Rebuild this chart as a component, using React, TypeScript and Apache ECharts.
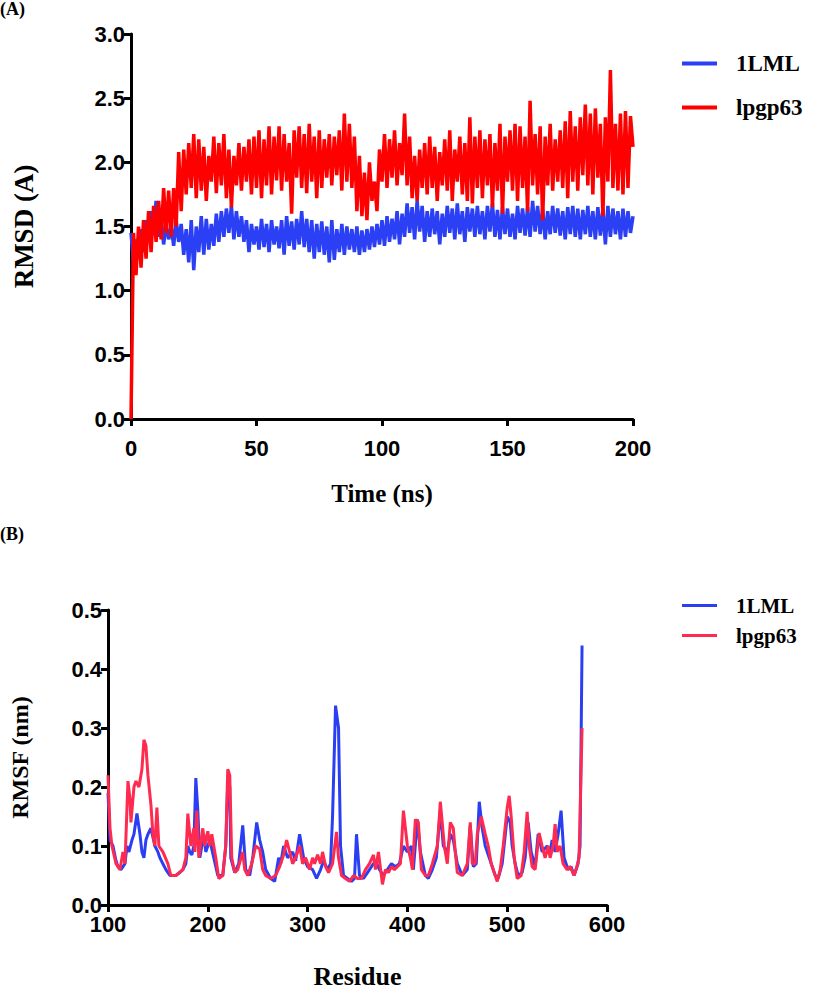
import React, { useEffect, useRef } from "react";
import * as echarts from "echarts";

// ---------- Panel A: RMSD vs time (ns), one value per ns ----------
const rmsdBlue = [
  1.45, 1.22, 1.40, 1.25, 1.48, 1.30, 1.55, 1.38, 1.62, 1.45,
  1.70, 1.42, 1.58, 1.36, 1.52, 1.40, 1.50, 1.35, 1.55, 1.38,
  1.52, 1.28, 1.48, 1.22, 1.55, 1.16, 1.50, 1.30, 1.58, 1.28,
  1.56, 1.32, 1.52, 1.35, 1.60, 1.38, 1.62, 1.42, 1.64, 1.45,
  1.66, 1.40, 1.62, 1.42, 1.58, 1.38, 1.55, 1.30, 1.52, 1.36,
  1.50, 1.32, 1.56, 1.34, 1.52, 1.30, 1.55, 1.36, 1.50, 1.33,
  1.55, 1.28, 1.58, 1.35, 1.54, 1.32, 1.56, 1.36, 1.62, 1.34,
  1.56, 1.30, 1.55, 1.25, 1.52, 1.30, 1.54, 1.28, 1.50, 1.22,
  1.55, 1.24, 1.48, 1.30, 1.52, 1.28, 1.50, 1.32, 1.48, 1.30,
  1.50, 1.28, 1.47, 1.30, 1.48, 1.32, 1.50, 1.34, 1.52, 1.36,
  1.55, 1.35, 1.58, 1.38, 1.56, 1.40, 1.62, 1.36, 1.60, 1.42,
  1.68, 1.45, 1.65, 1.40, 1.70, 1.46, 1.66, 1.38, 1.62, 1.42,
  1.64, 1.44, 1.62, 1.36, 1.60, 1.42, 1.66, 1.45, 1.64, 1.40,
  1.68, 1.44, 1.62, 1.38, 1.65, 1.46, 1.64, 1.42, 1.66, 1.44,
  1.62, 1.40, 1.66, 1.46, 1.68, 1.42, 1.63, 1.40, 1.65, 1.44,
  1.64, 1.42, 1.60, 1.40, 1.66, 1.45, 1.64, 1.43, 1.65, 1.42,
  1.70, 1.46, 1.66, 1.44, 1.64, 1.40, 1.62, 1.44, 1.66, 1.45,
  1.64, 1.43, 1.62, 1.40, 1.65, 1.44, 1.66, 1.42, 1.64, 1.40,
  1.63, 1.44, 1.66, 1.42, 1.62, 1.40, 1.65, 1.43, 1.64, 1.36,
  1.66, 1.42, 1.64, 1.44, 1.62, 1.40, 1.64, 1.42, 1.62, 1.45,
  1.58,
];

const rmsdRed = [
  0.00, 1.45, 1.12, 1.50, 1.18, 1.55, 1.25, 1.62, 1.30, 1.66,
  1.38, 1.70, 1.40, 1.80, 1.45, 1.78, 1.42, 1.80, 1.50, 2.08,
  1.62, 2.10, 1.75, 2.15, 1.80, 2.22, 1.72, 2.18, 1.78, 2.12,
  1.70, 2.05, 1.85, 2.20, 1.76, 2.15, 1.82, 2.22, 1.72, 2.10,
  1.65, 2.05, 1.82, 2.15, 1.78, 2.12, 1.85, 2.18, 1.75, 2.20,
  1.80, 2.25, 1.72, 2.18, 1.82, 2.28, 1.75, 2.20, 1.86, 2.28,
  1.78, 2.22, 1.85, 2.15, 1.60, 2.25, 1.88, 2.28, 1.80, 2.22,
  1.76, 2.30, 1.85, 2.20, 1.72, 2.25, 1.80, 2.18, 1.88, 2.22,
  1.82, 2.20, 1.90, 2.25, 1.78, 2.38, 1.85, 2.30, 1.80, 2.20,
  1.62, 2.05, 1.58, 1.92, 1.55, 2.00, 1.70, 1.85, 1.62, 2.10,
  1.85, 2.22, 1.80, 2.18, 1.88, 2.25, 1.82, 2.15, 1.90, 2.38,
  1.82, 2.20, 1.72, 2.05, 1.70, 2.10, 1.80, 2.15, 1.75, 2.20,
  1.80, 2.12, 1.70, 2.08, 1.82, 2.18, 1.78, 2.25, 1.70, 2.10,
  1.85, 2.20, 1.75, 2.15, 1.70, 2.35, 1.68, 2.20, 1.80, 2.25,
  1.72, 2.18, 1.82, 2.22, 1.65, 2.15, 1.78, 2.30, 1.60, 2.20,
  1.85, 2.25, 1.78, 2.30, 1.70, 2.28, 1.80, 2.20, 1.62, 2.48,
  1.82, 2.22, 1.75, 2.28, 1.55, 2.20, 1.82, 2.30, 1.78, 2.18,
  1.85, 2.25, 1.80, 2.32, 1.72, 2.40, 1.85, 2.28, 1.78, 2.35,
  1.90, 2.45, 1.82, 2.38, 1.75, 2.42, 1.88, 2.30, 1.58, 2.35,
  1.85, 2.72, 1.80, 2.30, 1.78, 2.38, 1.75, 2.40, 1.80, 2.36,
  2.12,
];

// ---------- Panel B: RMSF vs residue ----------
const rmsfResBlue = [
  100, 102, 105, 108, 110, 113, 117, 119, 121, 124, 126, 129, 132, 134, 136, 138, 140, 143, 147, 150,
  152, 155, 158, 162, 168, 172, 175, 178, 180, 182, 184, 186, 188, 190, 192, 194, 196, 198, 202, 206,
  210, 215, 218, 220, 222, 223, 227, 231, 235, 238, 242, 245, 249, 252, 255, 258, 263, 267, 271, 273,
  276, 280, 285, 288, 292, 296, 300, 305, 309, 313, 316, 320, 323, 325, 328, 331, 333, 336, 340, 344,
  347, 349, 352, 356, 360, 364, 368, 372, 376, 380, 384, 388, 392, 396, 400, 404, 406, 410, 413, 418,
  421, 425, 429, 433, 436, 440, 443, 446, 450, 455, 460, 463, 466, 469, 472, 475, 478, 482, 488, 491,
  495, 500, 503, 505, 508, 511, 515, 518, 521, 524, 528, 531, 535, 540, 543, 545, 548, 551, 554, 557,
  561, 564, 567, 571, 573, 575,
];
const rmsfBlue = [
  0.19, 0.11, 0.10, 0.075, 0.065, 0.06, 0.07, 0.10, 0.09, 0.11, 0.12, 0.155, 0.12, 0.09, 0.08, 0.11, 0.12, 0.13, 0.10, 0.09,
  0.08, 0.07, 0.06, 0.05, 0.05, 0.055, 0.06, 0.07, 0.10, 0.09, 0.085, 0.10, 0.215, 0.16, 0.08, 0.10, 0.12, 0.09, 0.11, 0.08,
  0.05, 0.05, 0.10, 0.21, 0.20, 0.08, 0.055, 0.07, 0.135, 0.06, 0.05, 0.08, 0.14, 0.11, 0.09, 0.06, 0.045, 0.04, 0.08, 0.07,
  0.10, 0.08, 0.09, 0.075, 0.12, 0.08, 0.065, 0.06, 0.045, 0.06, 0.075, 0.06, 0.07, 0.15, 0.338, 0.30, 0.10, 0.05, 0.045, 0.04,
  0.045, 0.12, 0.05, 0.045, 0.055, 0.065, 0.075, 0.06, 0.05, 0.06, 0.07, 0.065, 0.07, 0.10, 0.09, 0.10, 0.06, 0.145, 0.09, 0.05,
  0.045, 0.06, 0.08, 0.16, 0.10, 0.09, 0.12, 0.11, 0.07, 0.05, 0.06, 0.135, 0.065, 0.07, 0.175, 0.13, 0.10, 0.08, 0.05, 0.045,
  0.07, 0.15, 0.14, 0.10, 0.07, 0.05, 0.055, 0.08, 0.14, 0.09, 0.065, 0.12, 0.09, 0.10, 0.09, 0.11, 0.09, 0.12, 0.16, 0.08,
  0.06, 0.065, 0.05, 0.07, 0.10, 0.44,
];

const rmsfResRed = [
  100, 102, 104, 108, 112, 115, 117, 120, 122, 123, 126, 128, 131, 134, 136, 138, 140, 143, 145, 147,
  149, 151, 155, 160, 163, 168, 175, 178, 180, 183, 186, 187, 189, 191, 195, 197, 200, 202, 204, 208,
  211, 215, 218, 220, 222, 224, 227, 230, 235, 237, 240, 244, 248, 252, 255, 258, 263, 268, 272, 276,
  279, 282, 285, 288, 292, 295, 298, 302, 305, 307, 310, 313, 315, 318, 321, 325, 329, 331, 334, 338,
  342, 346, 350, 354, 358, 362, 366, 368, 371, 375, 378, 381, 384, 387, 390, 393, 396, 400, 403, 405,
  408, 411, 414, 418, 421, 425, 430, 433, 437, 440, 443, 446, 448, 450, 455, 460, 463, 465, 468, 470,
  474, 478, 481, 484, 490, 493, 496, 500, 502, 504, 507, 510, 514, 517, 520, 522, 525, 528, 532, 535,
  538, 541, 543, 546, 548, 550, 553, 556, 560, 563, 567, 569, 572, 575,
];
const rmsfRed = [
  0.22, 0.13, 0.10, 0.07, 0.06, 0.09, 0.07, 0.21, 0.18, 0.14, 0.20, 0.21, 0.20, 0.23, 0.28, 0.27, 0.22, 0.17, 0.12, 0.10,
  0.165, 0.10, 0.09, 0.07, 0.05, 0.05, 0.06, 0.08, 0.155, 0.10, 0.13, 0.09, 0.16, 0.08, 0.13, 0.10, 0.125, 0.10, 0.12, 0.08,
  0.045, 0.05, 0.10, 0.23, 0.22, 0.08, 0.055, 0.06, 0.09, 0.06, 0.05, 0.07, 0.10, 0.095, 0.06, 0.05, 0.045, 0.05, 0.065, 0.085,
  0.11, 0.09, 0.07, 0.08, 0.10, 0.07, 0.08, 0.06, 0.08, 0.07, 0.085, 0.07, 0.09, 0.065, 0.055, 0.07, 0.124, 0.08, 0.05, 0.045,
  0.04, 0.05, 0.045, 0.045, 0.06, 0.07, 0.085, 0.06, 0.09, 0.035, 0.06, 0.055, 0.065, 0.06, 0.065, 0.07, 0.16, 0.10, 0.08, 0.06,
  0.145, 0.14, 0.06, 0.05, 0.05, 0.07, 0.10, 0.175, 0.10, 0.07, 0.14, 0.13, 0.09, 0.055, 0.05, 0.07, 0.14, 0.07, 0.07, 0.12,
  0.15, 0.12, 0.10, 0.07, 0.04, 0.06, 0.10, 0.165, 0.185, 0.15, 0.08, 0.045, 0.05, 0.09, 0.158, 0.10, 0.065, 0.06, 0.122, 0.10,
  0.08, 0.10, 0.08, 0.10, 0.137, 0.09, 0.10, 0.07, 0.06, 0.065, 0.05, 0.06, 0.08, 0.30,
];

const seriesNames = ["1LML", "lpgp63"];

const BLUE_A = "#2b40f5";
const RED_A = "#ff0000";
const BLUE_B = "#2a3ff2";
const RED_B = "#ff2a50";

const SERIF = "'Liberation Serif', 'Times New Roman', serif";
const SANS = "'Liberation Sans', Arial, sans-serif";

export default function App() {
  const ref = useRef<HTMLDivElement>(null);

  useEffect(() => {
    if (!ref.current) return;
    const chart = echarts.init(ref.current, undefined, { renderer: "svg" });

    const axisLine = { show: true, lineStyle: { color: "#000", width: 3 } };
    const axisTick = { show: true, length: 7, lineStyle: { color: "#000", width: 3 } };
    const tickLabel = { color: "#000", fontFamily: SANS, fontWeight: "bold" as const, fontSize: 22 };

    const option: any = {
      animation: false,
      backgroundColor: "#fff",
      grid: [
        { left: 131, top: 34, width: 502, height: 385, containLabel: false },
        { left: 107, top: 610, width: 500, height: 310, containLabel: false },
      ],
      xAxis: [
        {
          type: "value", gridIndex: 0, min: 0, max: 200, interval: 50, offset: 10,
          axisLine, axisTick, splitLine: { show: false },
          axisLabel: { ...tickLabel, margin: 8 },
          name: "Time (ns)", nameLocation: "middle", nameGap: 52,
          nameTextStyle: { color: "#000", fontFamily: SERIF, fontWeight: "bold", fontSize: 25 },
        },
        {
          type: "value", gridIndex: 1, min: 100, max: 600, interval: 100,
          axisLine, axisTick, splitLine: { show: false },
          axisLabel: { ...tickLabel, margin: 8 },
          name: "Residue", nameLocation: "middle", nameGap: 58,
          nameTextStyle: { color: "#000", fontFamily: SERIF, fontWeight: "bold", fontSize: 26 },
        },
      ],
      yAxis: [
        {
          type: "value", gridIndex: 0, min: 0, max: 3, interval: 0.5,
          axisLine, axisTick, splitLine: { show: false },
          axisLabel: { ...tickLabel, margin: 6, formatter: (v: number) => v.toFixed(1) },
          name: "RMSD (A)", nameLocation: "middle", nameGap: 94, nameRotate: 90,
          nameTextStyle: { color: "#000", fontFamily: SERIF, fontWeight: "bold", fontSize: 27 },
        },
        {
          type: "value", gridIndex: 1, min: 0, max: 0.5, interval: 0.1,
          axisLine, axisTick, splitLine: { show: false },
          axisLabel: { ...tickLabel, margin: 6, formatter: (v: number) => v.toFixed(1) },
          name: "RMSF (nm)", nameLocation: "middle", nameGap: 76, nameRotate: 90,
          nameTextStyle: { color: "#000", fontFamily: SERIF, fontWeight: "bold", fontSize: 24 },
        },
      ],
      legend: [
        {
          orient: "vertical", left: 677, top: 47, itemWidth: 35, itemHeight: 4, itemGap: 21,
          icon: "rect", selectedMode: false,
          textStyle: { color: "#000", fontFamily: SERIF, fontWeight: "bold", fontSize: 23, padding: [0, 0, 0, 14] },
          data: [
            { name: seriesNames[0], itemStyle: { color: BLUE_A } },
            { name: seriesNames[1], itemStyle: { color: RED_A } },
          ],
        },
        {
          orient: "vertical", left: 677, top: 590, itemWidth: 35, itemHeight: 3, itemGap: 9,
          icon: "rect", selectedMode: false,
          textStyle: { color: "#000", fontFamily: SERIF, fontWeight: "bold", fontSize: 21, padding: [0, 0, 0, 14] },
          data: [
            { name: seriesNames[0], itemStyle: { color: BLUE_B } },
            { name: seriesNames[1], itemStyle: { color: RED_B } },
          ],
        },
      ],
      graphic: [
        { type: "text", left: 0, top: 0, style: { text: "(A)", fill: "#000", font: `bold 18px ${SERIF}` } },
        { type: "text", left: 0, top: 525, style: { text: "(B)", fill: "#000", font: `bold 18px ${SERIF}` } },
      ],
      series: [
        {
          name: seriesNames[0], type: "line", xAxisIndex: 0, yAxisIndex: 0, showSymbol: false,
          data: rmsdBlue.map((v, i) => [i, v]), lineStyle: { color: BLUE_A, width: 3.5 }, itemStyle: { color: BLUE_A },
        },
        {
          name: seriesNames[1], type: "line", xAxisIndex: 0, yAxisIndex: 0, showSymbol: false,
          data: rmsdRed.map((v, i) => [i, v]), lineStyle: { color: RED_A, width: 3.5 }, itemStyle: { color: RED_A },
        },
        {
          name: seriesNames[0], type: "line", xAxisIndex: 1, yAxisIndex: 1, showSymbol: false,
          data: rmsfBlue.map((v, i) => [rmsfResBlue[i], v]), lineStyle: { color: BLUE_B, width: 3 }, itemStyle: { color: BLUE_B },
        },
        {
          name: seriesNames[1], type: "line", xAxisIndex: 1, yAxisIndex: 1, showSymbol: false,
          data: rmsfRed.map((v, i) => [rmsfResRed[i], v]), lineStyle: { color: RED_B, width: 3 }, itemStyle: { color: RED_B },
        },
      ],
    };

    chart.setOption(option);
    return () => chart.dispose();
  }, []);

  return (
    <div
      ref={ref}
      style={{ position: "fixed", left: 0, top: 0, width: 822, height: 990, background: "#fff" }}
    />
  );
}
